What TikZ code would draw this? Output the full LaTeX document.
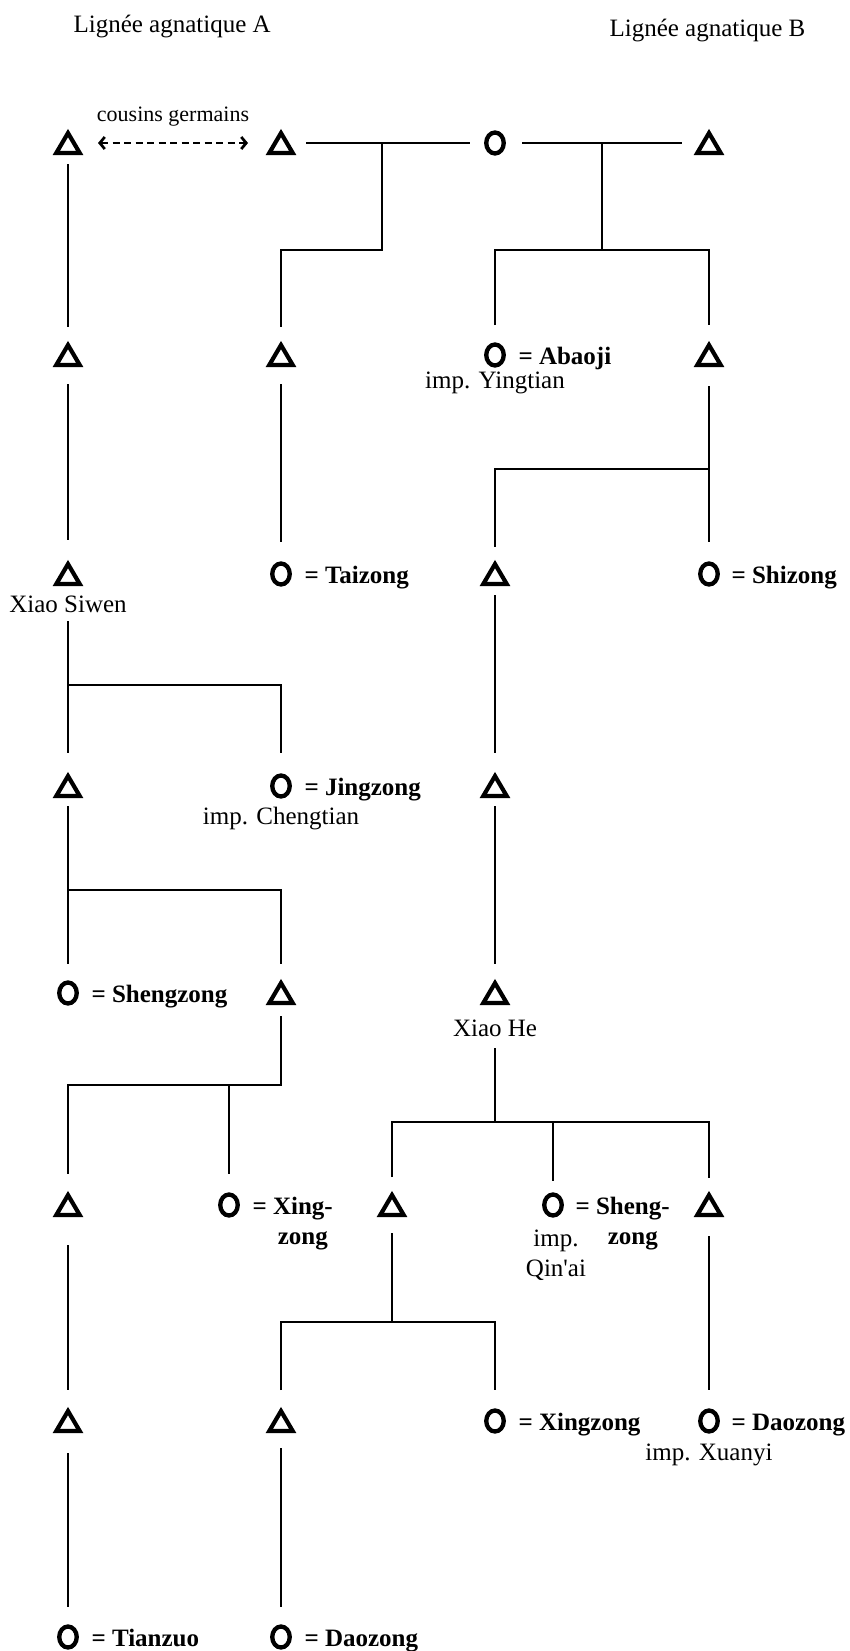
\documentclass[tikz,border=0pt]{standalone}
\usepackage{fontspec}
\setmainfont{Liberation Serif}
\usetikzlibrary{calc,arrows.meta,shapes.geometric}
\begin{document}
\begin{tikzpicture}[x=1pt,y=-1pt,
  every node/.style={font=\fontsize{25}{28}\selectfont},
  tri/.style={inner sep=0pt, minimum width=23pt, minimum height=19.5pt},
  circ/.style={ellipse, draw, line width=4.3pt, inner sep=0pt, minimum width=17.5pt, minimum height=21pt},
  trisym/.style={line width=4.2pt, line join=miter},
  boldname/.style={anchor=base west, font=\fontsize{25}{30}\selectfont\bfseries},
  sublabel/.style={anchor=base},
  link/.style={line width=2.7pt},
  cousin/.style={line width=2.7pt, dash pattern=on 7pt off 4.5pt, {Straight Barb[length=5pt,width=12pt,line width=2.7pt]}-{Straight Barb[length=5pt,width=12pt,line width=2.7pt]}},
]
\useasboundingbox (0,0) rectangle (850,1651);

% titles
\node[anchor=base west] (tA) at (70,33) {Lignée agnatique A};
\node[anchor=base west] (tB) at (606,37) {Lignée agnatique B};

% persons
\node[tri]  (a1) at (68,143) {};
\node[tri]  (b1) at (281,143) {};
\node[circ] (c1) at (495,143) {};
\node[tri]  (d1) at (709,143) {};

\node[tri]  (a2) at (68,355) {};
\node[tri]  (b2) at (281,355) {};
\node[circ] (c2) at (495,355) {};
\node[tri]  (d2) at (709,355) {};

\node[tri]  (a3) at (68,574) {};
\node[circ] (b3) at (281,574) {};
\node[tri]  (c3) at (495,574) {};
\node[circ] (d3) at (709,574) {};

\node[tri]  (a4) at (68,786) {};
\node[circ] (b4) at (281,786) {};
\node[tri]  (c4) at (495,786) {};

\node[circ] (a5) at (68,993) {};
\node[tri]  (b5) at (281,993) {};
\node[tri]  (c5) at (495,993) {};

\node[tri]  (a6) at (68,1205) {};
\node[circ] (p6) at (229,1205) {};
\node[tri]  (q6) at (392,1205) {};
\node[circ] (s6) at (553,1205) {};
\node[tri]  (d6) at (709,1205) {};

\node[tri]  (a7) at (68,1421) {};
\node[tri]  (b7) at (281,1421) {};
\node[circ] (c7) at (495,1421) {};
\node[circ] (d7) at (709,1421) {};

\node[circ] (a8) at (68,1637) {};
\node[circ] (b8) at (281,1637) {};

% triangles
\foreach \n in {a1,b1,d1,a2,b2,d2,a3,c3,a4,c4,b5,c5,a6,q6,d6,a7,b7}
  \draw[trisym] (\n.south west) -- (\n.south east) -- (\n.north) -- cycle;

% names
\node[boldname] (nc2) at ($(c2)+(20,9)$) {= Abaoji};
\node[boldname] (nb3) at ($(b3)+(20,9)$) {= Taizong};
\node[boldname] (nd3) at ($(d3)+(19,9)$) {= Shizong};
\node[boldname] (nb4) at ($(b4)+(20,9)$) {= Jingzong};
\node[boldname] (na5) at ($(a5)+(20,9)$) {= Shengzong};
\node[boldname] (np6) at ($(p6)+(20,9)$) {= \begin{tabular}[t]{@{}c@{}}Xing-\\zong\end{tabular}};
\node[boldname] (ns6) at ($(s6)+(19,9)$) {= \begin{tabular}[t]{@{}c@{}}Sheng-\\zong\end{tabular}};
\node[boldname] (nc7) at ($(c7)+(20,9)$) {= Xingzong};
\node[boldname] (nd7) at ($(d7)+(19,9)$) {= Daozong};
\node[boldname] (na8) at ($(a8)+(20,9)$) {= Tianzuo};
\node[boldname] (nb8) at ($(b8)+(20,9)$) {= Daozong};

% sub labels
\node[sublabel] (sc2) at ($(c2)+(0,33)$) {imp. Yingtian};
\node[sublabel] (sa3) at ($(a3)+(0,38)$) {Xiao Siwen};
\node[sublabel] (sb4) at ($(b4)+(0,38)$) {imp. Chengtian};
\node[sublabel] (sc5) at ($(c5)+(0,43)$) {Xiao He};
\node[sublabel, font=\fontsize{25}{30}\selectfont] (ss6) at ($(s6)+(3,41)$) {\begin{tabular}[t]{@{}c@{}}imp.\\Qin\textquotesingle ai\end{tabular}};
\node[sublabel] (sd7) at ($(d7)+(0,39)$) {imp. Xuanyi};

% cousins
\node[anchor=base, font=\fontsize{22}{26}\selectfont] (cg) at (173,122) {cousins germains};
\draw[cousin] ($(a1)+(30,0)$) -- ($(b1)+(-33,0)$);

% junction coordinates
\coordinate (m1) at (382,143);
\coordinate (k1) at (382,250);
\coordinate (k1b) at (281,250);
\coordinate (m2) at (602,143);
\coordinate (k2) at (602,250);
\coordinate (h2l) at (495,250);
\coordinate (h2r) at (709,250);
\coordinate (h3r) at (709,469);
\coordinate (h3l) at (495,469);
\coordinate (h4l) at (68,685);
\coordinate (h4r) at (281,685);
\coordinate (h5l) at (68,890);
\coordinate (h5r) at (281,890);
\coordinate (h6r) at (281,1085);
\coordinate (h6l) at (68,1085);
\coordinate (h6m) at (229,1085);
\coordinate (g6) at (495,1122);
\coordinate (g6l) at (392,1122);
\coordinate (g6m) at (553,1122);
\coordinate (g6r) at (709,1122);
\coordinate (h7m) at (392,1322);
\coordinate (h7l) at (281,1322);
\coordinate (h7r) at (495,1322);

% row 1 marriages
\draw[link] ($(b1)+(25,0)$) -- ($(c1)+(-25,0)$);
\draw[link] ($(c1)+(27,0)$) -- ($(d1)+(-27,0)$);
\draw[link] (m1) -- (k1) -- (k1b) -- ($(b2)+(0,-28)$);
\draw[link] (m2) -- (k2);
\draw[link] ($(c2)+(0,-30)$) -- (h2l) -- (h2r) -- ($(d2)+(0,-30)$);

% descent lines
\draw[link] ($(a1)+(0,21)$) -- ($(a2)+(0,-28)$);
\draw[link] ($(a2)+(0,29)$) -- ($(a3)+(0,-34)$);
\draw[link] ($(b2)+(0,29)$) -- ($(b3)+(0,-32)$);
\draw[link] ($(d2)+(0,31)$) -- ($(d3)+(0,-32)$);
\draw[link] (h3r) -- (h3l) -- ($(c3)+(0,-27)$);

\draw[link] ($(a3)+(0,47)$) -- ($(a4)+(0,-33)$);
\draw[link] (h4l) -- (h4r) -- ($(b4)+(0,-33)$);
\draw[link] ($(c3)+(0,21)$) -- ($(c4)+(0,-33)$);

\draw[link] ($(a4)+(0,20)$) -- ($(a5)+(0,-29)$);
\draw[link] (h5l) -- (h5r) -- ($(b5)+(0,-29)$);
\draw[link] ($(c4)+(0,20)$) -- ($(c5)+(0,-29)$);

\draw[link] ($(b5)+(0,23)$) -- (h6r) -- (h6l) -- ($(a6)+(0,-31)$);
\draw[link] (h6m) -- ($(p6)+(0,-31)$);
\draw[link] ($(c5)+(0,55)$) -- (g6);
\draw[link] ($(q6)+(0,-28)$) -- (g6l) -- (g6r) -- ($(d6)+(0,-27)$);
\draw[link] (g6m) -- ($(s6)+(0,-24)$);

\draw[link] ($(a6)+(0,40)$) -- ($(a7)+(0,-31)$);
\draw[link] ($(q6)+(0,28)$) -- (h7m);
\draw[link] ($(b7)+(0,-31)$) -- (h7l) -- (h7r) -- ($(c7)+(0,-31)$);
\draw[link] ($(d6)+(0,31)$) -- ($(d7)+(0,-31)$);

\draw[link] ($(a7)+(0,32)$) -- ($(a8)+(0,-30)$);
\draw[link] ($(b7)+(0,27)$) -- ($(b8)+(0,-30)$);
\end{tikzpicture}
\end{document}
